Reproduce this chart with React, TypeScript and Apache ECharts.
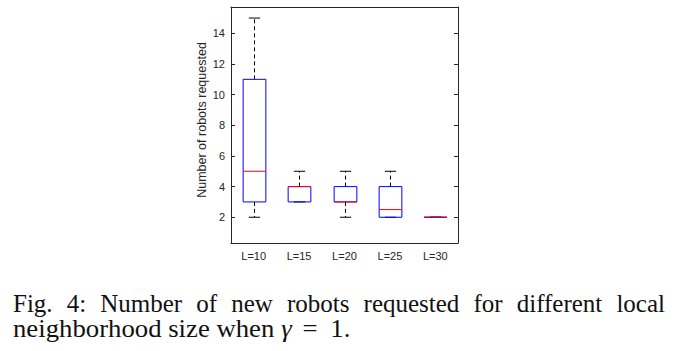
import React, { useEffect, useRef } from "react";
import * as echarts from "echarts";

const categories = ["L=10", "L=15", "L=20", "L=25", "L=30"];
// [min, q1, median, q3, max]
const whiskerLow = [2, 3, 2, 2, 2];
const q1 = [3, 3, 3, 2, 2];
const medians = [5, 4, 3, 2.5, 2];
const q3 = [11, 4, 4, 4, 2];
const whiskerHigh = [15, 5, 5, 5, 2];
const yTicks = [2, 4, 6, 8, 10, 12, 14];
const yAxisTitle = "Number of robots requested";
const captionLine1 = "Fig. 4: Number of new robots requested for different local";
const captionLine2a = "neighborhood size when ";
const captionGamma = "γ";
const captionLine2b = "1.";

export default function App() {
  const ref = useRef<HTMLDivElement>(null);
  useEffect(() => {
    if (!ref.current) return;
    const chart = echarts.init(ref.current, undefined, { renderer: "svg" });
    const axisColor = "#262626";
    const data = categories.map((_, i) => [i, whiskerLow[i], q1[i], medians[i], q3[i], whiskerHigh[i]]);
    const words1 = captionLine1.split(" ");
    const capFont = "25px 'Liberation Serif'";
    const ctx = document.createElement("canvas").getContext("2d")!;
    ctx.font = capFont;
    const widths = words1.map((w) => ctx.measureText(w).width);
    const total = widths.reduce((a, b) => a + b, 0);
    const capLeft = 13, capRight = 665;
    const gap = (capRight - capLeft - total) / (words1.length - 1);
    let cx = capLeft;
    const line1Els = words1.map((w, i) => {
      const el = {
        type: "text",
        x: cx,
        y: 303,
        style: { text: w, fill: "#111", font: capFont, lineHeight: 25, verticalAlign: "middle", align: "left" },
      };
      cx += widths[i] + gap;
      return el;
    });
    chart.setOption({
      animation: false,
      grid: { left: 231, top: 7, width: 227, height: 236 },
      xAxis: [
        {
          type: "category",
          data: categories,
          position: "bottom",
          axisLine: { lineStyle: { color: axisColor, width: 1 } },
          axisTick: { inside: true, length: 4, alignWithLabel: true, lineStyle: { color: axisColor } },
          axisLabel: { color: axisColor, fontFamily: "Liberation Sans", fontSize: 11, margin: 7 },
        },
        {
          type: "category",
          data: categories,
          position: "top",
          axisLine: { lineStyle: { color: axisColor, width: 1 } },
          axisTick: { inside: true, length: 4, alignWithLabel: true, lineStyle: { color: axisColor } },
          axisLabel: { show: false },
        },
      ],
      yAxis: [
        {
          type: "value",
          min: 0.32,
          max: 15.72,
          position: "left",
          name: yAxisTitle,
          nameLocation: "middle",
          nameGap: 21,
          nameTextStyle: { color: axisColor, fontFamily: "Liberation Sans", fontSize: 12.5, padding: [0, 0, 0, 10] },
          splitLine: { show: false },
          axisLine: { show: true, lineStyle: { color: axisColor, width: 1 } },
          axisTick: { show: true, inside: true, length: 4, customValues: yTicks, lineStyle: { color: axisColor } },
          axisLabel: { color: axisColor, fontFamily: "Liberation Sans", fontSize: 11, margin: 6, customValues: yTicks },
        },
        {
          type: "value",
          min: 0.32,
          max: 15.72,
          position: "right",
          splitLine: { show: false },
          axisLine: { show: true, lineStyle: { color: axisColor, width: 1 } },
          axisTick: { show: true, inside: true, length: 4, customValues: yTicks, lineStyle: { color: axisColor } },
          axisLabel: { show: false, customValues: yTicks },
        },
      ],
      series: [
        {
          type: "custom",
          xAxisIndex: 0,
          yAxisIndex: 0,
          data,
          renderItem: (params: any, api: any) => {
            const idx = api.value(0);
            const lo = api.coord([idx, api.value(1)]);
            const b1 = api.coord([idx, api.value(2)]);
            const md = api.coord([idx, api.value(3)]);
            const b3 = api.coord([idx, api.value(4)]);
            const hi = api.coord([idx, api.value(5)]);
            const band = api.size([1, 0])[0];
            const bw = band * 0.5;
            const cw = band * 0.25;
            const x = Math.round(lo[0]) + 0.5;
            const children: any[] = [];
            const whisk = { stroke: "#000", lineWidth: 1, lineDash: [4, 3] };
            if (hi[1] < b3[1]) {
              children.push({ type: "line", shape: { x1: x, y1: b3[1], x2: x, y2: hi[1] }, style: whisk });
            }
            if (lo[1] > b1[1]) {
              children.push({ type: "line", shape: { x1: x, y1: b1[1], x2: x, y2: lo[1] }, style: whisk });
            }
            children.push({ type: "line", shape: { x1: x - cw / 2, y1: hi[1], x2: x + cw / 2, y2: hi[1] }, style: { stroke: "#000", lineWidth: 1 } });
            children.push({ type: "line", shape: { x1: x - cw / 2, y1: lo[1], x2: x + cw / 2, y2: lo[1] }, style: { stroke: "#000", lineWidth: 1 } });
            children.push({
              type: "rect",
              shape: { x: x - bw / 2, y: b3[1], width: bw, height: Math.max(b1[1] - b3[1], 0.01) },
              style: { fill: "none", stroke: "#0000ff", lineWidth: 1 },
            });
            children.push({ type: "line", shape: { x1: x - bw / 2, y1: md[1], x2: x + bw / 2, y2: md[1] }, style: { stroke: "#ff0000", lineWidth: 1 } });
            return { type: "group", children };
          },
        },
      ],
      graphic: [
        ...line1Els,
        {
          type: "text",
          x: capLeft,
          y: 329,
          scaleX: 1.07,
          style: {
            text: `${captionLine2a}{g|${captionGamma}}{e|=}${captionLine2b}`,
            fill: "#111",
            font: capFont,
            lineHeight: 25,
            verticalAlign: "middle",
            rich: {
              g: { fontFamily: "Liberation Serif", fontStyle: "italic", fontSize: 25, lineHeight: 25, fill: "#111" },
              e: { fontFamily: "Liberation Serif", fontSize: 25, lineHeight: 25, fill: "#111", padding: [0, 12, 0, 10] },
            },
          },
        },
      ],
    });
    return () => chart.dispose();
  }, []);
  return <div ref={ref} style={{ position: "absolute", left: 0, top: 0, width: 694, height: 351, background: "#fff" }} />;
}
